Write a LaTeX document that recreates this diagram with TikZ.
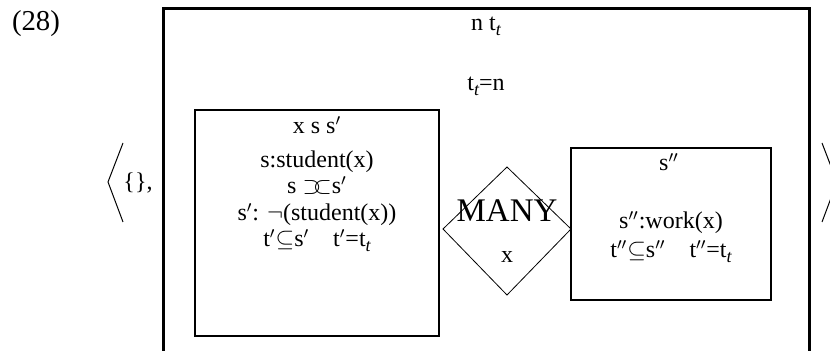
\documentclass[tikz,border=0pt]{standalone}
\usepackage{fontspec}
\setmainfont{Liberation Serif}
\usepackage{amsmath, amssymb}
\usepackage{xcolor}

% t with italic t subscript, and the abutment symbol
\newcommand{\ttime}{t\raisebox{-2.5pt}{\fontsize{9}{10}\selectfont\itshape t}}
\newcommand{\abut}{$\supset\mkern-6mu\subset$}

\tikzset{
    drstext/.style={inner sep=0pt, anchor=base, font=\fontsize{12}{14}\selectfont,
                    text height=8pt, text depth=2pt},
    drsbox/.style={draw=black, line width=1pt},
}

\begin{document}
\begin{tikzpicture}[x=0.5pt, y=-0.5pt]

                    % page frame
                    \clip (0,0) rectangle (830,351);

                    % example number
                    \node[drstext, font=\fontsize{14.4}{16}\selectfont] (num) at (36,31) {(28)};

                    % outer box (runs off the bottom)
                    \draw[black, line width=1.5pt] (163,9) rectangle (809,380);
                    \node[drstext] (univ) at (486,31) {n \ttime};
                    \node[drstext] (cond) at (486,91) {\ttime=n};

                    % angle brackets
                    \draw[black, line width=0.5pt] (123,143) -- (108,182) -- (123,222);
                    \draw[black, line width=0.5pt] (822,143) -- (837,182) -- (822,222);
                    \node[drstext] (empty) at (138,190) {\{\},};

                    % restrictor box
                    \draw[drsbox] (195,110) rectangle (439,336);
                    \node[drstext] (runiv) at (317,134) {x s s$'$};
                    \node[drstext] (rc1) at (317,168) {s:student(x)};
                    \node[drstext] (rc2) at (317,194) {s \abut s$'$};
                    \node[drstext] (rc3) at (317,221) {s$'$: $\neg$(student(x))};
                    \node[drstext] (rc4) at (317,247) {t$'$$\subseteq$s$'$\quad t$'$=\ttime};

                    % duplex quantifier
                    \draw[black, line width=0.4pt] (443,229) -- (507,167) -- (571,229) -- (507,295) -- cycle;
                    \node[drstext, font=\fontsize{16.5}{18}\selectfont] (quant) at (507,222) {MANY};
                    \node[drstext] (qvar) at (507,263) {x};

                    % scope box
                    \draw[drsbox, line width=1.2pt] (571,148) rectangle (771,300);
                    \node[drstext] (suniv) at (669,171) {s$''$};
                    \node[drstext] (sc1) at (671,229) {s$''$:work(x)};
                    \node[drstext] (sc2) at (671,258) {t$''$$\subseteq$s$''$\quad t$''$=\ttime};

                \end{tikzpicture}
\end{document}
